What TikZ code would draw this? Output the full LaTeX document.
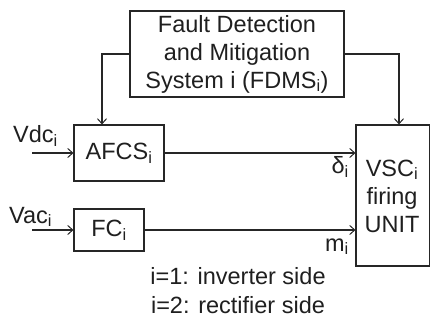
\documentclass[tikz,border=0pt]{standalone}
\usepackage{fontspec}
\setmainfont{Liberation Sans}
\usetikzlibrary{arrows.meta,calc}
\newcommand{\sbi}{\textsubscript{i}}
\begin{document}
\begin{tikzpicture}[x=1pt,y=-1pt,
  every node/.style={font=\fontsize{23.5}{28}\selectfont, text=black!88},
  blk/.style={draw=black!85, line width=1.1pt, inner sep=0pt},
  wire/.style={draw=black!85, line width=1.1pt},
  arr/.style={wire, -{Straight Barb[length=5pt,width=9pt,line width=1pt]}},
  lbl/.style={inner sep=0pt}]
\useasboundingbox (0,0) rectangle (430,320);
\node[blk, minimum width=214pt, minimum height=86pt, align=center] (fdms) at (237,54)
  {Fault Detection\\and Mitigation\\System i (FDMS\sbi)};
\node[blk, minimum width=90pt, minimum height=56pt] (afcs) at (119,153) {AFCS\sbi};
\node[blk, minimum width=70pt, minimum height=42pt] (fc) at (109,230) {FC\sbi};
\node[blk, minimum width=74pt, minimum height=141pt] (vsc) at (393,195.5) {};
\node[lbl, align=center] (vsct) at (392,196) {VSC\sbi\\firing\\UNIT};
\coordinate (vdcin) at (32,153);
\coordinate (vacin) at (32,230);
\node[lbl, anchor=base west] (vdc) at (13,143) {Vdc\sbi};
\node[lbl, anchor=base west] (vac) at (9,223) {Vac\sbi};
\node[lbl, anchor=base east] (delta) at (349,174) {δ\sbi};
\node[lbl, anchor=base east] (m) at (349,251) {m\sbi};
\node[lbl, anchor=base] (n1) at (238,284) {i=1: inverter side};
\node[lbl, anchor=base] (n2) at (238,313) {i=2: rectifier side};
\draw[arr] (vdcin) -- (afcs.west);
\draw[arr] (vacin) -- (fc.west);
\draw[arr] (afcs.east) -- (afcs.east -| vsc.west);
\draw[arr] (fc.east) -- (fc.east -| vsc.west);
\draw[arr] (fdms.west) -| ([xshift=-17pt]afcs.north);
\draw[arr] (fdms.east) -| ([xshift=6pt]vsc.north);
\end{tikzpicture}
\end{document}
